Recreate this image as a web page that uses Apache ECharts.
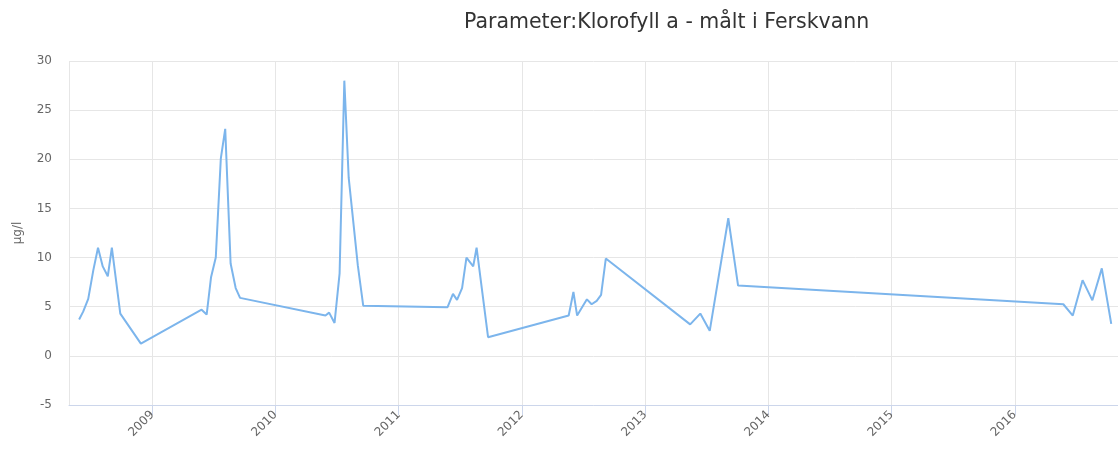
<!DOCTYPE html>
<html>
<head>
<meta charset="utf-8">
<title>Klorofyll a</title>
<script src="https://cdn.jsdelivr.net/npm/echarts@6/dist/echarts.min.js"></script>
<style>
  html, body { margin: 0; padding: 0; background: #fff; }
  #chart { width: 1118px; height: 451px; }
</style>
</head>
<body>
<div id="chart"></div>
<script>
// Sampling dates for chlorophyll a measurements in fresh water
const sampleDates = [
  '2008-05-29', '2008-06-10', '2008-06-25', '2008-07-10', '2008-07-24', '2008-08-07',
  '2008-08-22', '2008-09-03', '2008-09-28', '2008-11-28',
  '2009-05-27', '2009-06-11', '2009-06-24', '2009-07-08', '2009-07-23', '2009-08-05',
  '2009-08-21', '2009-09-05', '2009-09-18',
  '2010-05-29', '2010-06-09', '2010-06-25', '2010-07-10', '2010-07-24', '2010-08-06',
  '2010-09-02', '2010-09-18',
  '2011-05-26', '2011-06-11', '2011-06-23', '2011-07-08', '2011-07-21', '2011-08-10',
  '2011-08-20', '2011-09-23',
  '2012-05-19', '2012-06-02', '2012-06-13', '2012-07-12', '2012-07-26', '2012-08-10',
  '2012-08-23', '2012-09-06',
  '2013-05-14', '2013-06-13', '2013-07-11', '2013-09-04', '2013-10-03',
  '2016-05-24', '2016-06-21', '2016-07-20', '2016-08-18', '2016-09-15', '2016-10-13'
];

// Measured concentration, µg/l
const chlorophyllValues = [
  3.7, 4.5, 5.8, 8.7, 11.0, 9.1,
  8.1, 11.0, 4.3, 1.25,
  4.7, 4.2, 8.0, 10.0, 20.1, 23.1,
  9.4, 6.9, 5.9,
  4.1, 4.4, 3.35, 8.4, 28.0, 18.1,
  9.2, 5.1,
  4.95, 6.3, 5.7, 6.9, 10.0, 9.1,
  11.0, 1.9,
  4.1, 6.5, 4.1, 5.75, 5.25, 5.6,
  6.2, 9.9,
  3.2, 4.3, 2.55, 14.0, 7.15,
  5.25, 4.1, 7.7, 5.65, 8.9, 3.25
];

// Value axis ticks
const yTicks = [-5, 0, 5, 10, 15, 20, 25, 30];

const chart = echarts.init(document.getElementById('chart'));
const font = 'DejaVu Sans, Verdana, sans-serif';

chart.setOption({
  animation: false,
  textStyle: { fontFamily: font },
  title: {
    text: 'Parameter:Klorofyll a - målt i Ferskvann',
    left: 459,
    top: 7,
    textStyle: { fontFamily: font, fontSize: 20.5, fontWeight: 'normal', color: '#333333' }
  },
  grid: { left: 69, right: 0, top: 61, bottom: 46 },
  xAxis: {
    type: 'time',
    min: '2008-04-29',
    max: '2016-11-02',
    minInterval: 365 * 24 * 3600 * 1000,
    maxInterval: 366 * 24 * 3600 * 1000,
    axisLine: { onZero: false, lineStyle: { color: '#ccd6eb', width: 1 } },
    axisTick: { show: true, length: 10, lineStyle: { color: '#ccd6eb' } },
    splitLine: { show: true, lineStyle: { color: '#e6e6e6', width: 1 } },
    axisLabel: {
      formatter: '{yyyy}',
      rotate: 45,
      color: '#666666',
      fontSize: 12,
      fontFamily: font,
      margin: 8,
      showMinLabel: false,
      showMaxLabel: false
    }
  },
  yAxis: {
    type: 'value',
    min: yTicks[0],
    max: yTicks[yTicks.length - 1],
    interval: 5,
    name: 'µg/l',
    nameLocation: 'middle',
    nameGap: 45,
    nameRotate: 90,
    nameTextStyle: { color: '#666666', fontSize: 12, fontFamily: font },
    axisLine: { show: false },
    axisTick: { show: false },
    splitLine: { lineStyle: { color: '#e6e6e6', width: 1 } },
    axisLabel: { color: '#666666', fontSize: 12, fontFamily: font, margin: 17 }
  },
  series: [{
    type: 'line',
    data: sampleDates.map((d, i) => [d, chlorophyllValues[i]]),
    showSymbol: false,
    smooth: false,
    lineStyle: { color: '#7cb5ec', width: 2 },
    itemStyle: { color: '#7cb5ec' }
  }]
});
</script>
</body>
</html>
